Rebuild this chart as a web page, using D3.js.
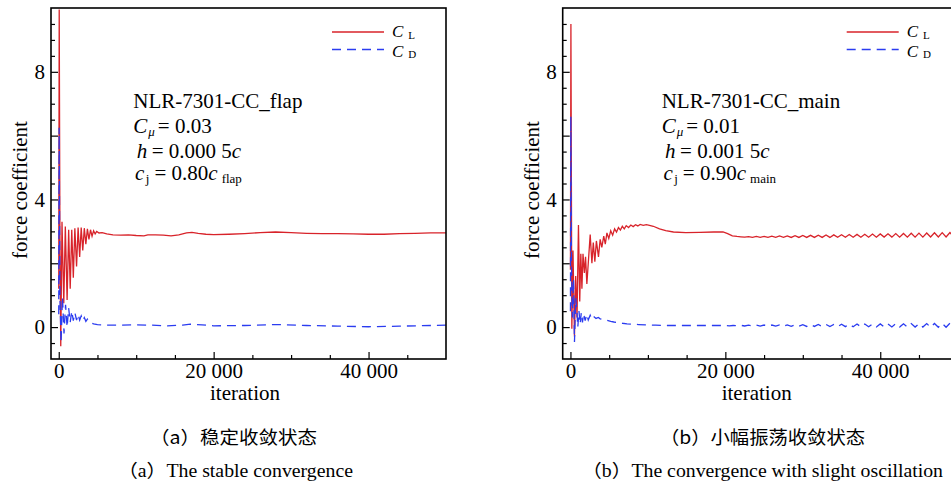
<!DOCTYPE html>
<meta charset="utf-8">
<style>
body { margin: 0; background: #fff; }
.frame { fill: none; stroke: #000; stroke-width: 1.6; }
.axis .domain { display: none; }
.axis line { stroke: #000; stroke-width: 1.2; }
.cl { fill: none; stroke: #d8232a; stroke-width: 1.3; }
.cd { fill: none; stroke: #2b3cf0; stroke-width: 1.3; stroke-dasharray: 9,6; }
</style>
<svg width="951" height="484" font-family="Liberation Serif"></svg>
<script src="https://cdn.jsdelivr.net/npm/d3@7"></script>
<script>

// [iteration, coefficient]
var clFlap = [[0,1.2],[60,9.95],[150,3.0],[260,-0.6],[420,3.3],[650,0.75],[850,3.15],[1080,0.85],[1280,3.05],
  [1480,1.2],[1680,3.05],[1880,1.55],[2080,3.1],[2300,1.9],[2500,3.12],[2700,2.2],[2900,3.12],[3100,2.4],
  [3300,3.1],[3500,2.6],[3700,3.08],[3900,2.75],[4100,3.05],[4300,2.85],[4500,3.02],[4700,2.92],[4900,3.0],
  [5200,2.95],[5600,2.96],[6200,2.92],[7000,2.89],[8000,2.88],[9000,2.89],[10000,2.87],[11000,2.86],
  [11500,2.89],[12500,2.89],[13500,2.88],[14500,2.86],[15500,2.89],[16500,2.95],[17200,2.97],[18000,2.94],
  [19000,2.91],[20000,2.9],[22000,2.91],[24000,2.93],[26000,2.96],[28000,2.98],[30000,2.96],[32000,2.94],
  [34000,2.93],[36000,2.93],[38000,2.92],[40000,2.91],[42000,2.91],[44000,2.93],[46000,2.94],[48000,2.95],
  [50000,2.95]];

var cdFlap = [[0,0.4],[50,6.25],[150,1.0],[300,-0.5],[480,0.95],[680,-0.2],[880,0.7],[1080,0.0],[1280,0.6],
  [1480,0.15],[1680,0.5],[1880,0.2],[2080,0.45],[2300,0.22],[2500,0.4],[2700,0.22],[2900,0.35],[3100,0.2],
  [3300,0.3],[3500,0.18],[3700,0.25],[4000,0.15],[4500,0.1],[5000,0.08],[6000,0.06],[8000,0.06],[10000,0.07],
  [12000,0.06],[14000,0.04],[16000,0.06],[17000,0.09],[18500,0.07],[20000,0.04],[24000,0.05],[28000,0.08],
  [32000,0.05],[36000,0.03],[40000,0.01],[44000,0.03],[48000,0.05],[50000,0.06]];

var clMain = [[0,1.8],[60,9.5],[180,-0.05],[330,2.4],[520,-0.3],[680,1.6],[850,0.3],[1035,3.2],[1200,0.8],
  [1340,2.3],[1480,1.2],[1620,2.3],[1800,1.7],[1950,2.2],[2120,1.35],[2550,2.9],[2770,2.0],[2950,2.65],
  [3150,2.05],[3350,2.7],[3620,2.2],[3840,2.75],[4050,2.5],[4300,2.85],[4500,2.6],[4710,2.95],[4950,2.78],
  [5200,3.02],[5450,2.88],[5700,3.08],[5950,2.98],[6200,3.12],[6450,3.04],[6700,3.16],[6950,3.08],[7200,3.18],
  [7500,3.12],[7800,3.2],[8100,3.15],[8400,3.21],[8700,3.17],[9000,3.22],[9400,3.19],[9800,3.21],[10200,3.19],
  [10700,3.16],[11500,3.08],[12300,3.02],[13300,2.98],[14900,2.96],[16700,2.97],[18500,2.98],[19700,2.98],
  [20300,2.93],[20900,2.86],[21500,2.84],[22000,2.83],[22500,2.82],
  [23000,2.835],[23500,2.815],[24000,2.84],[24500,2.815],[25000,2.845],[25500,2.81],[26000,2.85],[26500,2.81],
  [27000,2.855],[27500,2.81],[28000,2.86],[28500,2.81],[29000,2.865],[29500,2.81],[30000,2.87],[30500,2.81],
  [31000,2.875],[31500,2.81],[32000,2.88],[32500,2.81],[33000,2.885],[33500,2.81],[34000,2.89],[34500,2.815],
  [35000,2.895],[35500,2.815],[36000,2.9],[36500,2.815],[37000,2.905],[37500,2.815],[38000,2.91],[38500,2.815],
  [39000,2.915],[39500,2.815],[40000,2.92],[40500,2.82],[41000,2.925],[41500,2.82],[42000,2.93],[42500,2.82],
  [43000,2.935],[43500,2.82],[44000,2.94],[44500,2.82],[45000,2.945],[45500,2.82],[46000,2.95],[46500,2.825],
  [47000,2.955],[47500,2.825],[48000,2.96],[48500,2.825],[49000,2.965],[49500,2.825],[50000,2.965]];

var cdMain = [[0,0.5],[50,6.6],[130,2.0],[250,0.3],[400,1.5],[520,-0.47],[680,0.9],[830,0.52],[950,0.0],
  [1100,0.5],[1250,0.1],[1400,0.45],[1550,0.15],[1700,0.42],[1900,0.2],[2100,0.4],[2300,0.22],[2550,0.37],
  [2750,0.25],[3000,0.33],[3300,0.27],[3600,0.3],[3840,0.26],[4300,0.23],[4700,0.21],[5200,0.18],[5600,0.16],
  [6200,0.14],[6700,0.12],[7300,0.1],[8000,0.09],[8800,0.08],[9700,0.07],[11000,0.06],[12300,0.05],[14900,0.05],
  [17000,0.05],[19500,0.05],[20500,0.04],[21000,0.05],[21500,0.04],[22000,0.055],[22500,0.035],
  [23000,0.06],[23500,0.035],[24000,0.06],[24500,0.03],[25000,0.065],[25500,0.03],[26000,0.065],[26500,0.03],
  [27000,0.07],[27500,0.025],[28000,0.07],[28500,0.025],[29000,0.075],[29500,0.025],[30000,0.075],[30500,0.02],
  [31000,0.08],[31500,0.02],[32000,0.08],[32500,0.02],[33000,0.085],[33500,0.015],[34000,0.085],[34500,0.015],
  [35000,0.09],[35500,0.015],[36000,0.09],[36500,0.01],[37000,0.095],[37500,0.01],[38000,0.095],[38500,0.01],
  [39000,0.1],[39500,0.005],[40000,0.1],[40500,0.005],[41000,0.1],[41500,0.005],[42000,0.105],[42500,0.0],
  [43000,0.105],[43500,0.0],[44000,0.11],[44500,0.0],[45000,0.11],[45500,0.0],[46000,0.11],[46500,-0.005],
  [47000,0.115],[47500,-0.005],[48000,0.115],[48500,-0.005],[49000,0.12],[49500,-0.005],[50000,0.12]];

var xTickLabels = [0, 20000, 40000];
var yTickLabels = [0, 4, 8];
var caseNames = ["NLR-7301-CC_flap", "NLR-7301-CC_main"];
var cmuValues = ["0.03", "0.01"];
var hValues = ["0.000 5", "0.001 5"];
var cjValues = ["0.80", "0.90"];
var chordNames = ["flap", "main"];
var captionsZh = ["（a）稳定收敛状态", "（b）小幅振荡收敛状态"];
var captionsEn = ["（a）The stable convergence", "（b）The convergence with slight oscillation"];

var svg = d3.select("svg");
var serif = "Liberation Serif";

var layout = [
  {left: 51, right: 446, note: 133.3, legend: 332, ylab: 27, xlab: 245,
   zh: [150, 167], en: [118, 235], cl: clFlap, cd: cdFlap},
  {left: 562.7, right: 957.7, note: 661.7, legend: 846.7, ylab: 539, xlab: 756.7,
   zh: [660, 205], en: [582, 361], cl: clMain, cd: cdMain}
];

var plotTop = 8, plotBottom = 359;
var fmt = function(d) { return d3.format(",")(d).replace(",", " "); };

layout.forEach(function(p, i) {
  var x = d3.scaleLinear().domain([-1000, 50000]).range([p.left, p.right]);
  var y = d3.scaleLinear().domain([-1, 10]).range([plotBottom, plotTop]);

  svg.append("clipPath").attr("id", "clip" + i)
    .append("rect").attr("x", p.left).attr("y", plotTop)
      .attr("width", p.right - p.left).attr("height", plotBottom - plotTop);

  var line = d3.line()
      .x(function(d) { return x(d[0]); })
      .y(function(d) { return y(d[1]); });

  var g = svg.append("g").attr("clip-path", "url(#clip" + i + ")");
  g.append("path").datum(p.cl).attr("class", "cl").attr("d", line);
  g.append("path").datum(p.cd).attr("class", "cd").attr("d", line);

  // y axis: majors every 2, labels at 0,4,8
  svg.append("g").attr("class", "axis")
      .attr("transform", "translate(" + p.left + ",0)")
      .call(d3.axisLeft(y).tickValues(d3.range(0, 10, 2)).tickSizeInner(-7).tickSizeOuter(0).tickPadding(6)
        .tickFormat(function(d) { return yTickLabels.indexOf(d) >= 0 ? d : ""; }));
  svg.append("g").attr("class", "axis")
      .attr("transform", "translate(" + p.left + ",0)")
      .call(d3.axisLeft(y).tickValues(d3.range(-0.5, 10, 0.5).filter(function(d) { return d % 2 !== 0; }))
        .tickSizeInner(-4).tickSizeOuter(0).tickFormat(""));

  svg.append("g").attr("class", "axis")
      .attr("transform", "translate(0," + plotBottom + ")")
      .call(d3.axisBottom(x).tickValues(xTickLabels).tickSizeInner(-7).tickSizeOuter(0).tickPadding(4)
        .tickFormat(fmt));
  svg.append("g").attr("class", "axis")
      .attr("transform", "translate(0," + plotBottom + ")")
      .call(d3.axisBottom(x).tickValues(d3.range(5000, 50000, 5000).filter(function(d) { return d % 20000 !== 0; }))
        .tickSizeInner(-4).tickSizeOuter(0).tickFormat(""));

  svg.selectAll(".axis").attr("font-family", serif).attr("font-size", 21);

  svg.append("rect").attr("class", "frame")
      .attr("x", p.left).attr("y", plotTop)
      .attr("width", p.right - p.left).attr("height", plotBottom - plotTop);

  svg.append("text").attr("x", p.xlab).attr("y", 400).attr("font-family", serif)
      .attr("text-anchor", "middle").attr("font-size", 21).text("iteration");
  svg.append("text").attr("transform", "translate(" + p.ylab + ",190) rotate(-90)").attr("font-family", serif)
      .attr("text-anchor", "middle").attr("font-size", 21).text("force coefficient");

  // legend
  [["cl", 32, "L", 37], ["cd", 49.5, "D", 56.5]].forEach(function(l) {
    svg.append("line").attr("class", l[0])
        .attr("x1", p.legend).attr("x2", p.legend + 52).attr("y1", l[1]).attr("y2", l[1]);
    var t = svg.append("text").attr("x", p.legend + 60).attr("y", l[3])
        .attr("font-family", serif).attr("font-size", 17);
    t.append("tspan").attr("font-style", "italic").text("C");
    t.append("tspan").attr("font-size", 11).attr("dx", 5).attr("dy", 1.5).text(l[2]);
  });

  // annotation
  var nx = p.note;
  var note = svg.append("g").attr("font-family", serif).attr("font-size", 21);
  note.append("text").attr("x", nx).attr("y", 108).text(caseNames[i]);

  var t2 = note.append("text").attr("x", nx).attr("y", 133);
  t2.append("tspan").attr("font-style", "italic").text("C");
  t2.append("tspan").attr("font-style", "italic").attr("font-size", 13).attr("dx", 1).attr("dy", 3).text("μ");
  t2.append("tspan").attr("dx", 3).attr("dy", -3).text("= " + cmuValues[i]);

  var t3 = note.append("text").attr("x", nx + 3.4).attr("y", 158);
  t3.append("tspan").attr("font-style", "italic").text("h");
  t3.append("tspan").attr("dx", 4.5).text("= " + hValues[i]);
  t3.append("tspan").attr("font-style", "italic").text("c");

  var t4 = note.append("text").attr("x", nx + 1.7).attr("y", 180);
  t4.append("tspan").attr("font-style", "italic").text("c");
  t4.append("tspan").attr("font-size", 13).attr("dx", 1.5).attr("dy", 3).text("j");
  t4.append("tspan").attr("dx", 5).attr("dy", -3).text("= " + cjValues[i]);
  t4.append("tspan").attr("font-style", "italic").text("c");
  t4.append("tspan").attr("font-size", 13).attr("dx", 4).attr("dy", 3).text(chordNames[i]);

  // captions
  svg.append("text").attr("x", p.zh[0]).attr("y", 444)
      .attr("font-family", "Noto Sans CJK SC").attr("font-size", 18)
      .attr("textLength", p.zh[1]).attr("lengthAdjust", "spacingAndGlyphs").text(captionsZh[i]);
  svg.append("text").attr("x", p.en[0]).attr("y", 477)
      .attr("font-family", serif + ", Noto Sans CJK SC").attr("font-size", 18)
      .attr("textLength", p.en[1]).attr("lengthAdjust", "spacingAndGlyphs").text(captionsEn[i]);
});

</script>
